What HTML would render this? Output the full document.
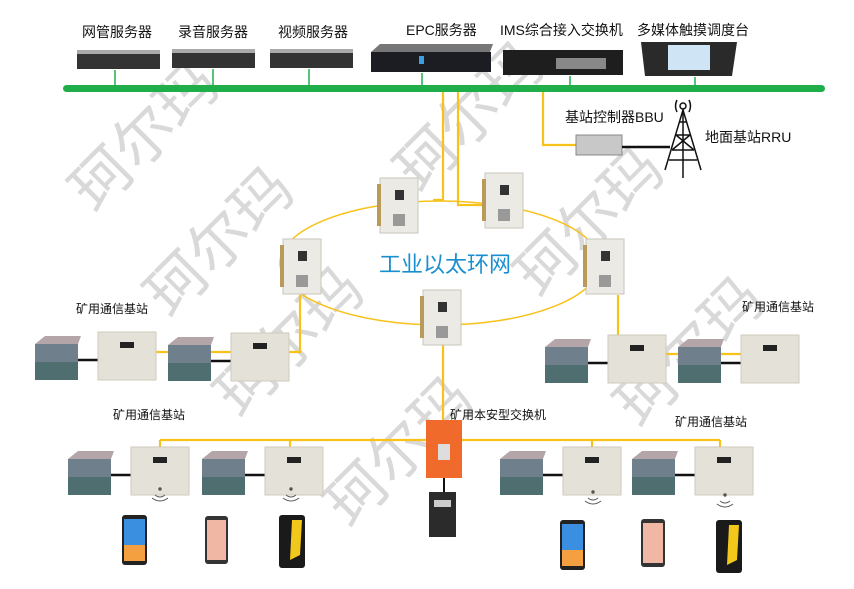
<!DOCTYPE html>
<html><head><meta charset="utf-8"><style>
html,body{margin:0;padding:0;background:#fff}
svg{display:block}
text{font-family:"Liberation Sans","Noto Sans CJK SC",sans-serif}
</style></head><body>
<svg width="854" height="589" viewBox="0 0 854 589" xmlns="http://www.w3.org/2000/svg">
<defs>
<g id="pair">
 <rect x="0" y="12" width="43" height="36" fill="#6f808c"/>
 <polygon points="0,12 10,4 46,4 43,12" fill="#b4a6a8"/>
 <rect x="0" y="30" width="43" height="18" fill="#4f6e70"/>
 <line x1="43" y1="28" x2="63" y2="28" stroke="#111" stroke-width="2.5"/>
 <rect x="63" y="0" width="58" height="48" fill="#e4e1d8" stroke="#cfcabd"/>
 <rect x="85" y="10" width="14" height="6" fill="#222"/>
</g>
<g id="cab">
 <rect x="0" y="0" width="38" height="55" fill="#eceae4" stroke="#c9c5ba"/>
 <rect x="-3" y="6" width="4" height="42" fill="#b89a5a"/>
 <rect x="15" y="12" width="9" height="10" fill="#333"/>
 <rect x="13" y="36" width="12" height="12" fill="#999"/>
</g>
<g id="wifi" fill="none" stroke="#555" stroke-width="1">
 <circle cx="0" cy="0" r="1.2" fill="#555"/>
 <path d="M-5,6 Q0,10 5,6 M-8,9 Q0,15 8,9"/>
</g>
</defs>

<!-- watermarks -->
<g fill="#d9d9d9" font-size="60" font-family="'Noto Serif CJK SC',serif">
 <text transform="translate(95,215) rotate(-45)">珂尔玛</text>
 <text transform="translate(170,320) rotate(-45)">珂尔玛</text>
 <text transform="translate(240,420) rotate(-45)">珂尔玛</text>
 <text transform="translate(420,195) rotate(-45)">珂尔玛</text>
 <text transform="translate(540,300) rotate(-45)">珂尔玛</text>
 <text transform="translate(350,530) rotate(-45)">珂尔玛</text>
 <text transform="translate(640,430) rotate(-45)">珂尔玛</text>
</g>

<!-- top labels -->
<g font-size="14" fill="#111">
 <text x="82" y="37">网管服务器</text>
 <text x="178" y="37">录音服务器</text>
 <text x="278" y="37">视频服务器</text>
 <text x="406" y="35">EPC服务器</text>
 <text x="500" y="35">IMS综合接入交换机</text>
 <text x="637" y="35">多媒体触摸调度台</text>
 <text x="565" y="122">基站控制器BBU</text>
 <text x="705" y="142">地面基站RRU</text>
</g>

<!-- servers -->
<g>
 <rect x="77" y="52" width="83" height="17" fill="#333"/><rect x="77" y="50" width="83" height="4" fill="#aaa"/>
 <rect x="172" y="51" width="83" height="17" fill="#333"/><rect x="172" y="49" width="83" height="4" fill="#aaa"/>
 <rect x="270" y="51" width="83" height="17" fill="#333"/><rect x="270" y="49" width="83" height="4" fill="#aaa"/>
 <polygon points="371,52 380,44 493,44 490,52" fill="#777"/>
 <rect x="371" y="52" width="120" height="20" fill="#1c1d22"/>
 <rect x="419" y="56" width="5" height="8" fill="#3aa0e0"/>
 <rect x="503" y="50" width="120" height="25" fill="#1e1e1e"/>
 <rect x="556" y="58" width="50" height="11" fill="#888"/>
 <polygon points="641,42 737,42 732,76 645,76" fill="#2a2a2a"/>
 <rect x="668" y="45" width="42" height="25" fill="#cfe5f5"/>
</g>
<g stroke="#1fae4a" stroke-width="1.5">
 <line x1="115" y1="70" x2="115" y2="88"/><line x1="213" y1="69" x2="213" y2="88"/>
 <line x1="309" y1="69" x2="309" y2="88"/><line x1="422" y1="73" x2="422" y2="88"/>
 <line x1="570" y1="76" x2="570" y2="88"/><line x1="695" y1="77" x2="695" y2="88"/>
</g>
<rect x="63" y="85" width="762" height="7" rx="3.5" fill="#1fae4a"/>

<!-- yellow lines -->
<g stroke="#f7c21a" stroke-width="2.2" fill="none">
 <polyline points="443,92 443,200 433,200"/>
 <polyline points="458,92 458,205 482,205"/>
 <polyline points="543,92 543,145 578,145"/>
 <ellipse cx="440" cy="263" rx="160" ry="62" stroke-width="1.5"/>
 <polyline points="300,295 300,352 127,352 127,333"/>
 <line x1="256" y1="352" x2="256" y2="333"/>
 <polyline points="618,295 618,354 767,354 767,335"/>
 <line x1="638" y1="354" x2="638" y2="335"/>
 <line x1="443" y1="345" x2="443" y2="420"/>
 <line x1="160" y1="440" x2="720" y2="440"/>
 <line x1="160" y1="440" x2="160" y2="447"/><line x1="290" y1="440" x2="290" y2="447"/>
 <line x1="592" y1="440" x2="592" y2="447"/><line x1="720" y1="440" x2="720" y2="447"/>
</g>

<!-- BBU + tower -->
<rect x="576" y="135" width="46" height="20" fill="#c8c8c8" stroke="#888"/>
<line x1="622" y1="147" x2="670" y2="147" stroke="#111" stroke-width="2.5"/>
<g stroke="#111" stroke-width="1.5" fill="none">
 <polyline points="665,170 683,110 701,170"/>
 <path d="M672,150 L694,150 M676,135 L690,135 M679,122 L687,122 M669,160 L697,160 M672,150 L690,135 M694,150 L676,135"/>
 <line x1="683" y1="110" x2="683" y2="178"/>
 <circle cx="683" cy="106" r="3"/>
 <path d="M677,100 Q674,106 677,112 M689,100 Q692,106 689,112"/>
</g>

<!-- ring cabinets -->
<use href="#cab" x="380" y="178"/>
<use href="#cab" x="485" y="173"/>
<use href="#cab" x="283" y="239"/>
<use href="#cab" x="586" y="239"/>
<use href="#cab" x="423" y="290"/>
<text x="379" y="272" font-size="22" fill="#1a8fd0">工业以太环网</text>

<!-- station labels -->
<g font-size="12" fill="#111">
 <text x="76" y="313">矿用通信基站</text>
 <text x="742" y="311">矿用通信基站</text>
 <text x="113" y="419">矿用通信基站</text>
 <text x="450" y="419">矿用本安型交换机</text>
 <text x="675" y="426">矿用通信基站</text>
</g>

<!-- stations -->
<use href="#pair" x="35" y="332"/>
<use href="#pair" x="168" y="333"/>
<use href="#pair" x="545" y="335"/>
<use href="#pair" x="678" y="335"/>
<use href="#pair" x="68" y="447"/>
<use href="#pair" x="202" y="447"/>
<use href="#pair" x="500" y="447"/>
<use href="#pair" x="632" y="447"/>

<!-- switch -->
<rect x="426" y="420" width="36" height="58" fill="#f06a2c"/>
<rect x="438" y="444" width="12" height="16" fill="#ddd"/>
<line x1="444" y1="478" x2="444" y2="492" stroke="#111" stroke-width="2"/>
<rect x="429" y="492" width="27" height="45" fill="#2b2b2b"/>
<rect x="434" y="500" width="17" height="7" fill="#ccc"/>

<!-- wifi -->
<use href="#wifi" x="160" y="489"/>
<use href="#wifi" x="291" y="489"/>
<use href="#wifi" x="593" y="492"/>
<use href="#wifi" x="725" y="495"/>

<!-- phones -->
<g>
 <rect x="122" y="515" width="25" height="50" rx="3" fill="#222"/><rect x="124" y="519" width="21" height="42" fill="#3a8fe0"/><rect x="124" y="545" width="21" height="16" fill="#f5a040"/>
 <rect x="205" y="516" width="23" height="48" rx="3" fill="#333"/><rect x="207" y="520" width="19" height="40" fill="#f0b8a4"/>
 <rect x="279" y="515" width="26" height="53" rx="3" fill="#1a1a1a"/><polygon points="292,520 302,520 300,555 290,560" fill="#f2c81a"/>
 <rect x="560" y="520" width="25" height="50" rx="3" fill="#222"/><rect x="562" y="524" width="21" height="42" fill="#3a8fe0"/><rect x="562" y="550" width="21" height="16" fill="#f5a040"/>
 <rect x="641" y="519" width="24" height="48" rx="3" fill="#333"/><rect x="643" y="523" width="20" height="40" fill="#f0b8a4"/>
 <rect x="716" y="520" width="26" height="53" rx="3" fill="#1a1a1a"/><polygon points="729,525 739,525 737,560 727,565" fill="#f2c81a"/>
</g>
</svg>
</body></html>
